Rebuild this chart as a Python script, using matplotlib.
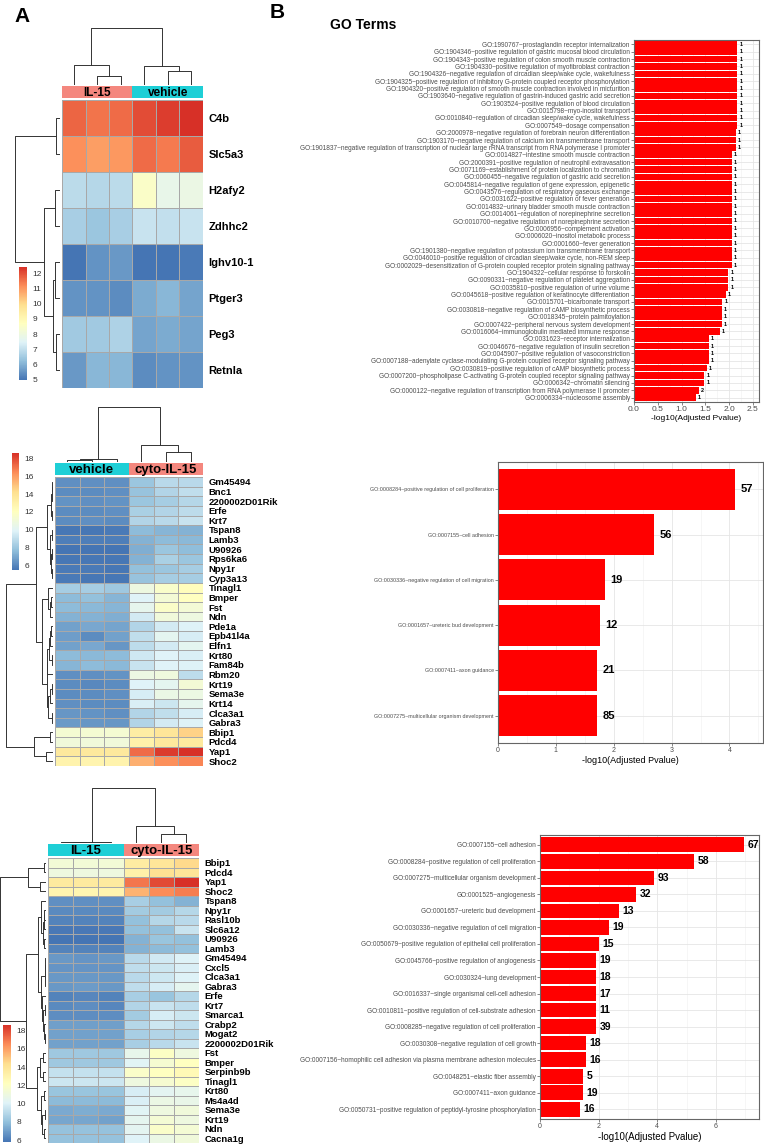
import numpy as np
import matplotlib
matplotlib.use("Agg")
import matplotlib.pyplot as plt
from matplotlib.colors import LinearSegmentedColormap, Normalize
from matplotlib.cm import ScalarMappable

plt.rcParams['font.family'] = ['Liberation Sans', 'DejaVu Sans']

# ---------------- data: heatmaps ----------------
hm1_genes = ["C4b", "Slc5a3", "H2afy2", "Zdhhc2", "Ighv10-1", "Ptger3", "Peg3", "Retnla"]
hm1_groups = ["IL-15", "vehicle"]
hm1_values = [
    [11.7, 11.5, 11.6, 12.0, 12.2, 12.4],
    [11.1, 10.9, 11.0, 11.6, 11.4, 11.8],
    [6.9, 6.8, 6.9, 8.5, 7.8, 7.9],
    [6.6, 6.4, 6.6, 7.1, 7.0, 7.1],
    [5.0, 5.5, 5.6, 5.0, 5.0, 5.1],
    [5.5, 5.5, 5.4, 5.9, 6.1, 5.8],
    [6.5, 6.5, 6.7, 5.8, 5.9, 5.8],
    [5.6, 6.1, 6.1, 5.4, 5.5, 5.5],
]

hm2_genes = ["Gm45494", "Bnc1", "2200002D01Rik", "Erfe", "Krt7", "Tspan8", "Lamb3", "U90926",
             "Rps6ka6", "Npy1r", "Cyp3a13", "Tinagl1", "Bmper", "Fst", "Ndn", "Pde1a", "Epb41l4a",
             "Elfn1", "Krt80", "Fam84b", "Rbm20", "Krt19", "Sema3e", "Krt14", "Clca3a1", "Gabra3",
             "Bbip1", "Pdcd4", "Yap1", "Shoc2"]
hm2_groups = ["vehicle", "cyto-IL-15"]
hm2_values = [
    [6.3, 6.3, 6.3, 8.0, 8.8, 8.8],
    [6.2, 6.2, 6.3, 7.9, 8.6, 9.0],
    [6.4, 6.3, 6.4, 8.0, 8.3, 8.7],
    [6.2, 6.2, 6.3, 8.4, 8.6, 8.9],
    [6.2, 6.3, 6.2, 8.6, 8.8, 9.2],
    [5.6, 5.6, 5.7, 7.6, 7.4, 7.3],
    [5.8, 5.8, 5.8, 7.3, 7.6, 7.5],
    [5.5, 5.5, 5.5, 7.2, 8.0, 7.7],
    [5.6, 5.6, 5.6, 7.3, 8.4, 8.0],
    [5.7, 5.7, 5.6, 7.8, 8.0, 8.3],
    [5.7, 5.6, 5.6, 7.9, 8.3, 8.3],
    [8.3, 8.3, 8.1, 10.8, 11.6, 12.2],
    [7.6, 7.8, 7.4, 9.9, 11.2, 12.0],
    [7.6, 7.5, 7.4, 10.3, 11.7, 11.2],
    [7.3, 7.3, 7.2, 9.5, 11.0, 10.8],
    [6.8, 7.0, 6.9, 8.6, 9.5, 9.8],
    [6.7, 6.2, 6.8, 9.0, 10.2, 9.6],
    [6.8, 7.0, 6.5, 8.9, 9.5, 10.2],
    [7.6, 7.5, 7.6, 9.4, 9.9, 9.7],
    [7.4, 7.6, 7.5, 9.2, 9.9, 9.8],
    [6.3, 6.3, 6.4, 10.7, 10.9, 8.9],
    [6.2, 6.1, 6.2, 9.9, 10.2, 11.2],
    [6.2, 6.2, 6.3, 9.6, 10.6, 10.7],
    [6.3, 6.2, 6.2, 9.7, 9.3, 10.3],
    [6.5, 6.4, 6.3, 8.6, 9.0, 9.6],
    [6.6, 6.5, 6.5, 8.6, 9.5, 9.8],
    [11.3, 11.3, 11.3, 13.3, 13.8, 14.6],
    [11.0, 11.0, 11.0, 13.0, 13.6, 13.5],
    [13.6, 13.6, 13.6, 17.2, 18.3, 18.6],
    [12.9, 12.8, 12.9, 15.5, 16.3, 16.6],
]

hm3_genes = ["Bbip1", "Pdcd4", "Yap1", "Shoc2", "Tspan8", "Npy1r", "Rasl10b", "Slc6a12", "U90926",
             "Lamb3", "Gm45494", "Cxcl5", "Clca3a1", "Gabra3", "Erfe", "Krt7", "Smarca1", "Crabp2",
             "Mogat2", "2200002D01Rik", "Fst", "Bmper", "Serpinb9b", "Tinagl1", "Krt80", "Ms4a4d",
             "Sema3e", "Krt19", "Ndn", "Cacna1g"]
hm3_groups = ["IL-15", "cyto-IL-15"]
hm3_values = [
    [11.3, 11.3, 11.3, 13.5, 13.9, 14.5],
    [11.0, 11.0, 11.0, 13.2, 14.2, 14.0],
    [13.6, 13.6, 13.6, 17.0, 18.0, 18.6],
    [12.9, 12.8, 12.9, 15.5, 16.5, 16.8],
    [6.6, 6.6, 6.6, 8.6, 8.0, 7.6],
    [6.4, 6.4, 6.4, 8.4, 8.4, 8.9],
    [6.2, 6.2, 6.2, 8.0, 8.9, 9.0],
    [5.9, 5.9, 5.9, 8.0, 8.0, 9.4],
    [5.8, 5.8, 5.8, 7.6, 8.2, 8.0],
    [6.2, 6.2, 6.2, 7.6, 7.8, 8.0],
    [6.8, 6.7, 6.8, 9.0, 9.7, 10.0],
    [6.7, 6.7, 6.7, 9.2, 9.5, 9.9],
    [6.8, 6.8, 6.8, 9.0, 9.6, 10.0],
    [6.8, 6.9, 6.8, 9.2, 9.8, 10.4],
    [6.2, 6.3, 6.2, 8.6, 8.2, 8.9],
    [6.4, 6.5, 6.3, 8.8, 9.4, 9.2],
    [6.5, 6.5, 6.5, 8.4, 9.8, 9.5],
    [7.0, 7.0, 7.0, 8.9, 9.6, 9.2],
    [7.1, 7.1, 7.1, 8.6, 8.8, 8.9],
    [7.1, 7.1, 7.1, 8.6, 9.0, 9.4],
    [8.3, 8.3, 8.3, 10.6, 12.0, 11.0],
    [8.3, 8.3, 8.3, 10.2, 11.5, 12.2],
    [9.3, 9.3, 9.3, 11.8, 12.2, 12.6],
    [9.5, 9.5, 9.5, 11.0, 11.6, 12.0],
    [8.2, 8.2, 8.2, 9.8, 10.3, 10.5],
    [7.8, 7.8, 7.8, 9.9, 10.8, 10.7],
    [7.3, 7.4, 7.3, 10.2, 11.0, 11.2],
    [7.2, 7.2, 7.1, 10.4, 11.4, 11.0],
    [8.1, 8.1, 8.1, 10.3, 11.8, 11.4],
    [8.1, 8.1, 8.1, 10.1, 10.8, 11.2],
]

# ---------------- data: GO bar charts ----------------
go1_terms = [
    "GO:1990767~prostaglandin receptor internalization",
    "GO:1904346~positive regulation of gastric mucosal blood circulation",
    "GO:1904343~positive regulation of colon smooth muscle contraction",
    "GO:1904330~positive regulation of myofibroblast contraction",
    "GO:1904326~negative regulation of circadian sleep/wake cycle, wakefulness",
    "GO:1904325~positive regulation of inhibitory G-protein coupled receptor phosphorylation",
    "GO:1904320~positive regulation of smooth muscle contraction involved in micturition",
    "GO:1903640~negative regulation of gastrin-induced gastric acid secretion",
    "GO:1903524~positive regulation of blood circulation",
    "GO:0015798~myo-inositol transport",
    "GO:0010840~regulation of circadian sleep/wake cycle, wakefulness",
    "GO:0007549~dosage compensation",
    "GO:2000978~negative regulation of forebrain neuron differentiation",
    "GO:1903170~negative regulation of calcium ion transmembrane transport",
    "GO:1901837~negative regulation of transcription of nuclear large rRNA transcript from RNA polymerase I promoter",
    "GO:0014827~intestine smooth muscle contraction",
    "GO:2000391~positive regulation of neutrophil extravasation",
    "GO:0071169~establishment of protein localization to chromatin",
    "GO:0060455~negative regulation of gastric acid secretion",
    "GO:0045814~negative regulation of gene expression, epigenetic",
    "GO:0043576~regulation of respiratory gaseous exchange",
    "GO:0031622~positive regulation of fever generation",
    "GO:0014832~urinary bladder smooth muscle contraction",
    "GO:0014061~regulation of norepinephrine secretion",
    "GO:0010700~negative regulation of norepinephrine secretion",
    "GO:0006956~complement activation",
    "GO:0006020~inositol metabolic process",
    "GO:0001660~fever generation",
    "GO:1901380~negative regulation of potassium ion transmembrane transport",
    "GO:0046010~positive regulation of circadian sleep/wake cycle, non-REM sleep",
    "GO:0002029~desensitization of G-protein coupled receptor protein signaling pathway",
    "GO:1904322~cellular response to forskolin",
    "GO:0090331~negative regulation of platelet aggregation",
    "GO:0035810~positive regulation of urine volume",
    "GO:0045618~positive regulation of keratinocyte differentiation",
    "GO:0015701~bicarbonate transport",
    "GO:0030818~negative regulation of cAMP biosynthetic process",
    "GO:0018345~protein palmitoylation",
    "GO:0007422~peripheral nervous system development",
    "GO:0016064~immunoglobulin mediated immune response",
    "GO:0031623~receptor internalization",
    "GO:0046676~negative regulation of insulin secretion",
    "GO:0045907~positive regulation of vasoconstriction",
    "GO:0007188~adenylate cyclase-modulating G-protein coupled receptor signaling pathway",
    "GO:0030819~positive regulation of cAMP biosynthetic process",
    "GO:0007200~phospholipase C-activating G-protein coupled receptor signaling pathway",
    "GO:0006342~chromatin silencing",
    "GO:0000122~negative regulation of transcription from RNA polymerase II promoter",
    "GO:0006334~nucleosome assembly",
]
go1_values = [2.17, 2.17, 2.17, 2.17, 2.17, 2.17, 2.17, 2.17, 2.17, 2.17, 2.17, 2.17,
              2.14, 2.14, 2.14,
              2.06, 2.06, 2.06, 2.06, 2.06, 2.06, 2.06, 2.06, 2.06, 2.06, 2.06, 2.06, 2.06, 2.06, 2.06, 2.06,
              1.98, 1.98, 1.98, 1.93, 1.86, 1.85, 1.85, 1.85, 1.81,
              1.58, 1.58, 1.57, 1.57, 1.53, 1.48, 1.48, 1.37, 1.30]
go1_counts = [1, 1, 1, 1, 1, 1, 1, 1, 1, 1, 1, 1, 1, 1, 1, 1, 1, 1, 1, 1, 1, 1, 1, 1, 1,
              1, 1, 1, 1, 1, 1, 1, 1, 1, 1, 1, 1, 1, 1, 1, 1, 1, 1, 1, 1, 1, 1, 2, 1]

go2_terms = [
    "GO:0008284~positive regulation of cell proliferation",
    "GO:0007155~cell adhesion",
    "GO:0030336~negative regulation of cell migration",
    "GO:0001657~ureteric bud development",
    "GO:0007411~axon guidance",
    "GO:0007275~multicellular organism development",
]
go2_values = [4.09, 2.70, 1.85, 1.76, 1.71, 1.71]
go2_counts = [57, 56, 19, 12, 21, 85]

go3_terms = [
    "GO:0007155~cell adhesion",
    "GO:0008284~positive regulation of cell proliferation",
    "GO:0007275~multicellular organism development",
    "GO:0001525~angiogenesis",
    "GO:0001657~ureteric bud development",
    "GO:0030336~negative regulation of cell migration",
    "GO:0050679~positive regulation of epithelial cell proliferation",
    "GO:0045766~positive regulation of angiogenesis",
    "GO:0030324~lung development",
    "GO:0016337~single organismal cell-cell adhesion",
    "GO:0010811~positive regulation of cell-substrate adhesion",
    "GO:0008285~negative regulation of cell proliferation",
    "GO:0030308~negative regulation of cell growth",
    "GO:0007156~homophilic cell adhesion via plasma membrane adhesion molecules",
    "GO:0048251~elastic fiber assembly",
    "GO:0007411~axon guidance",
    "GO:0050731~positive regulation of peptidyl-tyrosine phosphorylation",
]
go3_values = [6.96, 5.26, 3.89, 3.27, 2.68, 2.36, 2.00, 1.91, 1.91, 1.91, 1.91, 1.91,
              1.58, 1.58, 1.48, 1.48, 1.37]
go3_counts = [67, 58, 93, 32, 13, 19, 15, 19, 18, 17, 11, 39, 18, 16, 5, 19, 16]

# ---------------- figure helpers ----------------
W, H = 764, 1146
fig = plt.figure(figsize=(W / 100, H / 100), dpi=100)

cmap = LinearSegmentedColormap.from_list(
    "rdylbu", ["#4575B4", "#91BFDB", "#E0F3F8", "#FFFFBF", "#FEE090", "#FC8D59", "#D73027"])
SALMON = "#F4877E"
CYAN = "#1ECFD6"


def add_px(x0, y0, x1, y1):
    return fig.add_axes([x0 / W, 1 - y1 / H, (x1 - x0) / W, (y1 - y0) / H])


def adjacent_tree(mat):
    # complete-linkage clustering, only merging neighbours so the leaf order is kept
    clusters = [[i] for i in range(len(mat))]
    pos = [float(i) for i in range(len(mat))]
    hts = [0.0] * len(mat)
    links = []
    h = 0.0
    while len(clusters) > 1:
        best = None
        for k in range(len(clusters) - 1):
            d = max(np.linalg.norm(mat[i] - mat[j]) for i in clusters[k] for j in clusters[k + 1])
            if best is None or d < best[0]:
                best = (d, k)
        d, k = best
        h = max(d, hts[k], hts[k + 1])
        links.append((pos[k], hts[k], pos[k + 1], hts[k + 1], h))
        clusters[k:k + 2] = [clusters[k] + clusters[k + 1]]
        pos[k:k + 2] = [(pos[k] + pos[k + 1]) / 2]
        hts[k:k + 2] = [h]
    return links, h


def draw_heatmap(values, genes, groups, colors, x0, x1, y_dend, y_ann, y_cell, y_end,
                 x_dend, cbar, cticks, gene_fs, ann_fs):
    vals = np.array(values)
    n, m = vals.shape
    norm = Normalize(vals.min(), vals.max())

    ax = add_px(x0, y_cell, x1, y_end)
    ax.pcolormesh(vals, cmap=cmap, norm=norm, edgecolors="#A8A8A8", linewidth=0.5)
    ax.set_xlim(0, m)
    ax.set_ylim(n, 0)
    ax.set_xticks([])
    ax.yaxis.tick_right()
    ax.set_yticks(np.arange(n) + 0.5)
    ax.set_yticklabels(genes, fontsize=gene_fs, fontweight="bold")
    ax.tick_params(length=0, pad=4)
    for s in ax.spines.values():
        s.set_visible(False)

    axa = add_px(x0, y_ann, x1, y_cell - 2)
    half = m // 2
    axa.bar([half / 2, half + half / 2], [1, 1], width=half, color=colors)
    for xc, g in zip([half / 2, half + half / 2], groups):
        axa.text(xc, 0.45, g, ha="center", va="center", fontsize=ann_fs, fontweight="bold")
    axa.set_xlim(0, m)
    axa.set_ylim(0, 1)
    axa.axis("off")

    links, top = adjacent_tree(vals.T)
    axc = add_px(x0, y_dend, x1, y_ann - 1)
    for pa, ha, pb, hb, h in links:
        axc.plot([pa + 0.5, pa + 0.5, pb + 0.5, pb + 0.5], [ha, h, h, hb], color="#333333", lw=0.7)
    axc.set_xlim(0, m)
    axc.set_ylim(0, top)
    axc.axis("off")

    links, top = adjacent_tree(vals)
    axr = add_px(x_dend, y_cell, x0 - 2, y_end)
    for pa, ha, pb, hb, h in links:
        axr.plot([ha, h, h, hb], [pa + 0.5, pa + 0.5, pb + 0.5, pb + 0.5], color="#333333", lw=0.7)
    axr.set_xlim(top, 0)
    axr.set_ylim(n, 0)
    axr.axis("off")

    axb = add_px(*cbar)
    cb = fig.colorbar(ScalarMappable(norm=norm, cmap=cmap), cax=axb)
    cb.outline.set_visible(False)
    cb.set_ticks(cticks)
    axb.tick_params(length=2, width=0.5, color="white", labelsize=6, pad=2, labelcolor="#333333")


def go_bars(box, terms, values, counts, xmax, xticks, xfmt, minor, term_fs, count_fs, tick_fs,
            xlab_fs, count_pad):
    ax = add_px(*box)
    y = np.arange(len(terms))
    ax.barh(y, values, height=0.9, color="#FF0000", zorder=2)
    ax.set_yticks(y)
    ax.set_yticklabels(terms, fontsize=term_fs, color="#4D4D4D")
    ax.set_ylim(len(terms) - 0.4, -0.6)
    ax.set_xlim(0, xmax)
    ax.set_xticks(xticks)
    ax.set_xticklabels([xfmt.format(t) for t in xticks], fontsize=tick_fs, color="#4D4D4D")
    ax.set_xticks(minor, minor=True)
    ax.grid(which="major", color="#E5E5E5", lw=0.6)
    ax.grid(which="minor", axis="x", color="#F0F0F0", lw=0.4)
    ax.set_axisbelow(True)
    ax.tick_params(which="major", length=2, width=0.5, color="#555555", pad=1)
    ax.tick_params(which="minor", length=0)
    for yi, v, c in zip(y, values, counts):
        ax.annotate(str(c), (v, yi), xytext=(count_pad, 0), textcoords="offset points",
                    ha="left", va="center", fontsize=count_fs, fontweight="bold")
    ax.set_xlabel("-log10(Adjusted Pvalue)", fontsize=xlab_fs, labelpad=1)
    for s in ax.spines.values():
        s.set_color("#666666")
        s.set_linewidth(0.8)
    return ax


# ---------------- panel A: heatmaps ----------------
draw_heatmap(hm1_values, hm1_genes, hm1_groups, [SALMON, CYAN],
             62, 203, 28, 86, 100, 388, 15, (19, 267, 27, 380),
             [5, 6, 7, 8, 9, 10, 11, 12], 8, 8.5)
draw_heatmap(hm2_values, hm2_genes, hm2_groups, [CYAN, SALMON],
             55, 203, 407, 463, 477, 766, 6, (12, 453, 19, 570),
             [6, 8, 10, 12, 14, 16, 18], 6.8, 9.5)
draw_heatmap(hm3_values, hm3_genes, hm3_groups, [CYAN, SALMON],
             48, 199, 788, 844, 858, 1143, 0, (3, 1025, 11, 1142),
             [6, 8, 10, 12, 14, 16, 18], 6.8, 9.5)

# ---------------- panel B: GO bar charts ----------------
go_bars((634, 40, 759, 402), go1_terms, go1_values, go1_counts, 2.63,
        [0, 0.5, 1.0, 1.5, 2.0, 2.5], "{:.1f}", [0.25, 0.75, 1.25, 1.75, 2.25],
        4.7, 4, 6, 6, 1.5)
go_bars((498, 462, 763, 743), go2_terms, go2_values, go2_counts, 4.58,
        [0, 1, 2, 3, 4], "{:d}", [0.5, 1.5, 2.5, 3.5, 4.5],
        3.9, 8, 5, 6.5, 4)
go_bars((540, 835, 759, 1119), go3_terms, go3_values, go3_counts, 7.47,
        [0, 2, 4, 6], "{:d}", [1, 3, 5, 7],
        4.7, 7.5, 5, 7, 2.5)

fig.text(22 / W, 1 - 17 / H, "A", fontsize=15, fontweight="bold", ha="center", va="center")
fig.text(277 / W, 1 - 13 / H, "B", fontsize=15, fontweight="bold", ha="center", va="center")
fig.text(330 / W, 1 - 25 / H, "GO Terms", fontsize=10, fontweight="bold", ha="left", va="center")

fig.savefig("out.png", dpi=100)
